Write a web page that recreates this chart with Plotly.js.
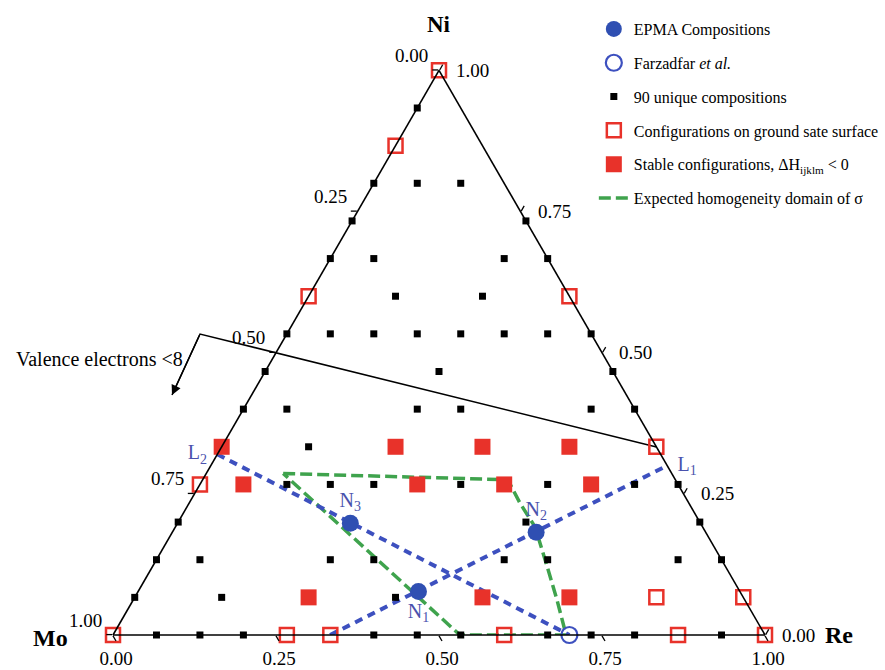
<!DOCTYPE html>
<html><head><meta charset="utf-8">
<script src="https://cdn.plot.ly/plotly-3.0.1.min.js"></script>
<style>html,body{margin:0;padding:0;background:#fff}</style>
</head><body>
<div id="chart" style="width:885px;height:670px"></div>
<script>
// ---------------- DATA ----------------
// Compositions on the 1/15 grid, given in fifteenths (Mo = 15 - Ni - Re)
const uniqueNi15 = [0,0,0,0,0,0,0,0,0,0, 1,1,1, 2,2,2,2,2,2,2,2, 3,3,3,3, 4,4,4,4,4,4,4, 5, 6,6,6,6,6,6, 7,7,7, 8,8,8,8,8,8,8,8, 9,9, 10,10,10,10, 11,11, 12,12,12,12, 14,14];
const uniqueRe15 = [1,2,3,6,7,8,10,11,12,14, 0,2,6, 0,1,4,5,8,9,12,13, 0,4,8,12, 2,3,4,6,8,10,11, 2, 0,1,4,5,8,9, 0,4,8, 0,1,2,3,4,5,6,7, 2,4, 0,1,4,5, 0,4, 0,1,2,3, 0,1];
const groundNi15 = [0,0,0,0,0,0, 1,1, 4, 5, 9,9, 13,13, 15];
const groundRe15 = [0,4,5,9,13,15, 12,14, 0, 10, 0,6, 0,2, 0];
const stableNi15 = [1,1,1, 4,4,4,4, 5,5,5,5];
const stableRe15 = [4,8,10, 1,5,7,9, 0,4,6,8];
// EPMA compositions (fractions)
const epmaNames = ['N<sub>1</sub>','N<sub>2</sub>','N<sub>3</sub>'];
const epmaNi = [0.077, 0.182, 0.198];
const epmaRe = [0.430, 0.558, 0.265];
// Farzadfar et al.
const farzNi = [0.00];
const farzRe = [0.70];
// Lines L1 and L2
const lineL1Ni = [0.000, 0.30];
const lineL1Re = [0.333, 0.70];
const lineL2Ni = [0.32, 0.00];
const lineL2Re = [0.00, 0.70];
const lineNames = ['L<sub>1</sub>','L<sub>2</sub>'];
const lineEndNi = [0.30, 0.32];
const lineEndRe = [0.70, 0.00];
// Expected homogeneity domain of sigma
const sigmaNi = [0.286, 0.275, 0.234, 0.191, 0.115, 0.062, 0.000, 0.000, 0.286];
const sigmaRe = [0.118, 0.468, 0.507, 0.552, 0.610, 0.650, 0.695, 0.532, 0.118];
// Valence electrons = 8 boundary (extended beyond the Mo-Ni edge) and arrow
const valenceNi = [0.333, 0.533, 0.425];
const valenceRe = [0.667, -0.133, -0.122];
// Axis ticks: values along each edge and the labels shown
const tickVals = [0, 0.25, 0.5, 0.75, 1];
const tickText = ['1.00', '0.75', '0.50', '0.25', '0.00'];   // 1 - value
const niTickText = ['0.00', '0.25', '0.50', '0.75', '1.00']; // Ni fraction on the Ni-Re edge

// --------------- LAYOUT GEOMETRY ---------------
const PW = 885, PH = 670;
const X0 = 113, X1 = 765, YB = 635;
const W = X1 - X0, H = W * Math.sqrt(3) / 2;
const SERIF = 'Liberation Serif, Times New Roman, serif';

const f15 = v => v.map(x => x / 15);
const moOf = (ni, re) => ni.map((n, i) => 1 - n - re[i]);
const tern = (ni, re) => ({a: ni, b: moOf(ni, re), c: re});
// cartesian overlay coordinates (same frame as the ternary triangle)
const cx = (ni, re) => ni.map((n, i) => re[i] + n / 2);
const cy = ni => ni.slice();

const RED = '#e8322a', BLUE = '#2f4fb2', BLUE2 = '#3d50bf', GREEN = '#3fa34d', LBL = '#4a52ad';

const traces = [];
traces.push(Object.assign({type:'scatterternary', mode:'lines', name:'Expected homogeneity domain of σ',
  line:{color:GREEN, width:3.5, dash:'12px,5px'}, legendgroup:'g6', legendrank:6, hoverinfo:'skip'},
  tern(sigmaNi, sigmaRe)));
traces.push(Object.assign({type:'scatterternary', mode:'lines', showlegend:false,
  line:{color:BLUE2, width:4, dash:'8px,6px'}, hoverinfo:'skip'}, tern(lineL1Ni, lineL1Re)));
traces.push(Object.assign({type:'scatterternary', mode:'lines', showlegend:false,
  line:{color:BLUE2, width:4, dash:'8px,6px'}, hoverinfo:'skip'}, tern(lineL2Ni, lineL2Re)));
traces.push(Object.assign({type:'scatterternary', mode:'markers', name:'90 unique compositions', cliponaxis:false,
  marker:{symbol:'square', size:7, color:'black'}, legendgroup:'g3', legendrank:3},
  tern(f15(uniqueNi15), f15(uniqueRe15))));
traces.push(Object.assign({type:'scatterternary', mode:'markers', name:'Configurations on ground sate surface', cliponaxis:false,
  marker:{symbol:'square-open', size:14, color:RED, line:{width:2.5, color:RED}}, legendgroup:'g4', legendrank:4},
  tern(f15(groundNi15), f15(groundRe15))));
traces.push(Object.assign({type:'scatterternary', mode:'markers', name:'Stable configurations, ΔH<sub>ijklm</sub> &lt; 0', cliponaxis:false,
  marker:{symbol:'square', size:16, color:RED}, legendgroup:'g5', legendrank:5},
  tern(f15(stableNi15), f15(stableRe15))));
traces.push(Object.assign({type:'scatterternary', mode:'markers', name:'Farzadfar <i>et al.</i>', cliponaxis:false,
  marker:{symbol:'circle-open', size:16, color:BLUE2, line:{width:2.2, color:BLUE2}}, legendgroup:'g2', legendrank:2},
  tern(farzNi, farzRe)));
traces.push(Object.assign({type:'scatterternary', mode:'markers', name:'EPMA Compositions', cliponaxis:false,
  marker:{symbol:'circle', size:17, color:BLUE}, legendgroup:'g1', legendrank:1},
  tern(epmaNi, epmaRe)));
traces.push(Object.assign({type:'scatterternary', mode:'markers+text', showlegend:false, hoverinfo:'skip',
  text:epmaNames, textposition:['bottom center','top center','top center'],
  textfont:{family:SERIF, size:20, color:LBL}, cliponaxis:false,
  marker:{size:17, opacity:0}}, tern(epmaNi, epmaRe)));
traces.push(Object.assign({type:'scatterternary', mode:'markers+text', showlegend:false, hoverinfo:'skip',
  text:lineNames, textposition:['middle right','middle left'],
  textfont:{family:SERIF, size:20, color:LBL}, cliponaxis:false,
  marker:{size:15, opacity:0}}, tern(lineEndNi, lineEndRe)));
const vx = cx(valenceNi, valenceRe), vy = cy(valenceNi);
traces.push({type:'scatter', mode:'lines', x:vx, y:vy, xaxis:'x', yaxis:'y', showlegend:false,
  hoverinfo:'skip', cliponaxis:false, line:{color:'black', width:1.5}});

const axisCommon = {
  showgrid:false, showline:true, linecolor:'black', linewidth:1.6,
  ticks:'outside', ticklen:6, tickcolor:'black', tickwidth:1.3,
  tickvals:tickVals, ticktext:tickText,
  tickfont:{family:SERIF, size:19, color:'black'}, title:{text:''}
};

const tickFont = {family:SERIF, size:19, color:'black'};
// Mo labels on the Mo-Ni edge (Re = 0): Ni = tickVals, label = Mo
const leftX = cx(tickVals, tickVals.map(() => 0)), leftY = cy(tickVals);
// Ni labels on the Ni-Re edge (Mo = 0): Ni = tickVals
const rightX = cx(tickVals, tickVals.map(v => 1 - v)), rightY = cy(tickVals);
const tickAnnots = [];
tickVals.forEach((v, k) => {
  tickAnnots.push({xref:'x', yref:'y', x:leftX[k], y:leftY[k], text:tickText[k], showarrow:false,
    xanchor:'right', yanchor:'middle', xshift:-9, yshift:15, font:tickFont});
  tickAnnots.push({xref:'x', yref:'y', x:rightX[k], y:rightY[k], text:niTickText[k], showarrow:false,
    xanchor:'left', yanchor:'middle', xshift:15, yshift:0, font:tickFont});
});

const layout = {
  width:PW, height:PH, margin:{l:0, r:0, t:0, b:0, autoexpand:false},
  paper_bgcolor:'white', plot_bgcolor:'rgba(0,0,0,0)',
  showlegend:true,
  font:{family:SERIF, color:'black'},
  ternary:{
    sum:1,
    domain:{x:[X0/PW, X1/PW], y:[1 - YB/PH, 1 - (YB - H)/PH]},
    bgcolor:'rgba(0,0,0,0)',
    aaxis:Object.assign({}, axisCommon, {showticklabels:false}),
    baxis:Object.assign({}, axisCommon),
    caxis:Object.assign({}, axisCommon, {showticklabels:false})
  },
  xaxis:{domain:[0,1], range:[-X0/W, (PW - X0)/W], visible:false, fixedrange:true},
  yaxis:{domain:[0,1], range:[(YB - PH)/H, YB/H], visible:false, fixedrange:true},
  legend:{x:0.671, y:0.982, xanchor:'left', yanchor:'top', bgcolor:'rgba(0,0,0,0)',
    font:{family:SERIF, size:16, color:'black'}, tracegroupgap:10, itemsizing:'trace'},
  annotations:[
    {xref:'x', yref:'y', x:0.5, y:1, text:'<b>Ni</b>', showarrow:false, yanchor:'bottom', yshift:31,
     font:{family:SERIF, size:23, color:'black'}},
    {xref:'x', yref:'y', x:0, y:0, text:'<b>Mo</b>', showarrow:false, xanchor:'right', xshift:-43, yshift:-3,
     font:{family:SERIF, size:24, color:'black'}},
    {xref:'x', yref:'y', x:1, y:0, text:'<b>Re</b>', showarrow:false, xanchor:'left', xshift:58,
     font:{family:SERIF, size:24, color:'black'}},
    {xref:'x', yref:'y', x:vx[1], y:vy[1], text:'Valence electrons &lt;8', showarrow:false,
     xanchor:'right', yanchor:'top', xshift:-15, yshift:-12, font:{family:SERIF, size:20, color:'black'}},
    {xref:'x', yref:'y', axref:'x', ayref:'y', x:vx[2], y:vy[2], ax:vx[1], ay:vy[1], text:'',
     showarrow:true, arrowhead:2, arrowsize:1.3, arrowwidth:1.5, arrowcolor:'black'}
  ].concat(tickAnnots)
};

Plotly.newPlot('chart', traces, layout, {displayModeBar:false, staticPlot:true});
</script>
</body></html>
